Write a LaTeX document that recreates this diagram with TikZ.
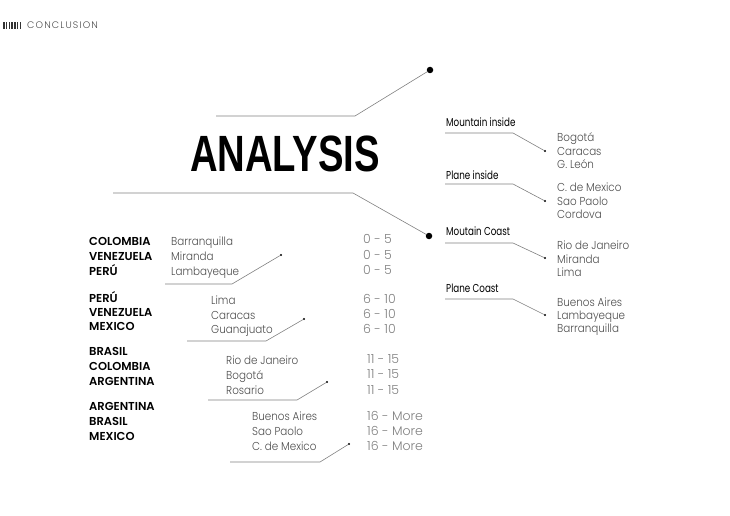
\documentclass[tikz,border=0pt]{standalone}
\usepackage{fontspec}
\setmainfont{Poppins}
\newfontfamily\thinfont{Poppins Light}[FakeStretch=0.9]
\newfontfamily\spanfont{Poppins Light}
\newfontfamily\labelfont{Poppins}[FakeStretch=0.76]
\newfontfamily\heavyfont{Poppins SemiBold}
\newfontfamily\titlefont{Liberation Sans Bold}[FakeStretch=0.75]
\newfontfamily\headfont{Poppins Light}[LetterSpace=12]
\usetikzlibrary{positioning}
\tikzset{
        title/.style = {font=\titlefont\fontsize{51}{51}\selectfont, inner sep=0pt, anchor=base},
        country/.style = {font=\heavyfont\fontsize{11.5}{14}\selectfont, inner sep=0pt, anchor=base west},
        city/.style = {font=\thinfont\fontsize{11.5}{13}\selectfont, text=black!70, inner sep=0pt, anchor=base west},
        agerange/.style = {font=\spanfont\fontsize{12.5}{13}\selectfont, text=black!50, inner sep=0pt, anchor=base west},
        kind/.style = {font=\labelfont\fontsize{11.5}{13}\selectfont, inner sep=0pt, anchor=base west},
        leader/.style = {draw=black!50, line width=0.6pt},
        bigdot/.style = {circle, fill=black, inner sep=0pt, minimum size=6.5pt},
        dot/.style = {circle, fill=black, inner sep=0pt, minimum size=2.4pt},
}
\begin{document}
\begin{tikzpicture}[x=1pt,y=-1pt]
\useasboundingbox (0,0) rectangle (730,516);
% header
\foreach \i in {0,...,6} \fill[black!80] (3+2.75*\i,22) rectangle ++(1.6,7);
\node [anchor=base west, inner sep=0pt, font=\headfont\fontsize{9.5}{10}\selectfont, text=black!70] (head) at (27,29) {CONCLUSION};

% title and its two leaders
\node [title] (analysis) at (285,171.5) {ANALYSIS};
\node [bigdot] (topdot) at (430,70) {};
\node [bigdot] (lowdot) at (429,236) {};
\coordinate (topa) at (216,116);
\coordinate (topb) at (355,116);
\coordinate (lowa) at (113,193);
\coordinate (lowb) at (353,193);
\draw [leader] (topa) -- (topb) -- (topdot);
\draw [leader] (lowa) -- (lowb) -- (lowdot);

% right column
\node [kind] (mi) at (446,127) {Mountain inside};
\node [city] (mi1) at (557,141) {Bogotá};
\node [city] (mi2) at (557,155) {Caracas};
\node [city] (mi3) at (557,168) {G. León};
\node [dot] (midot) at (545,151) {};
\draw [leader] (445,133) coordinate (mia) -- (513,133) coordinate (mib) -- (midot);

\node [kind] (pi) at (446,179) {Plane inside};
\node [city] (pi1) at (557,191) {C. de Mexico};
\node [city] (pi2) at (557,205) {Sao Paolo};
\node [city] (pi3) at (557,218) {Cordova};
\node [dot] (pidot) at (545,201) {};
\draw [leader] (445,184) coordinate (pia) -- (513,184) coordinate (pib) -- (pidot);

\node [kind] (mc) at (446,235) {Moutain Coast};
\node [city] (mc1) at (557,249) {Rio de Janeiro};
\node [city] (mc2) at (557,263) {Miranda};
\node [city] (mc3) at (557,276) {Lima};
\node [dot] (mcdot) at (545,258) {};
\draw [leader] (445,243) coordinate (mca) -- (513,243) coordinate (mcb) -- (mcdot);

\node [kind] (pc) at (446,292) {Plane Coast};
\node [city] (pc1) at (557,306) {Buenos Aires};
\node [city] (pc2) at (557,319) {Lambayeque};
\node [city] (pc3) at (557,332) {Barranquilla};
\node [dot] (pcdot) at (545,315) {};
\draw [leader] (445,299) coordinate (pca) -- (513,299) coordinate (pcb) -- (pcdot);

% left column, group 0 - 5
\node [country] (ga1) at (89,245.5) {COLOMBIA};
\node [country] (ga2) at (89,260.5) {VENEZUELA};
\node [country] (ga3) at (89,275.5) {PERÚ};
\node [city] (ca1) at (171,245.5) {Barranquilla};
\node [city] (ca2) at (171,260.5) {Miranda};
\node [city] (ca3) at (171,275.5) {Lambayeque};
\node [agerange] (ra1) at (363,243.5) {0 - 5};
\node [agerange] (ra2) at (363,259) {0 - 5};
\node [agerange] (ra3) at (363,274.5) {0 - 5};
\node [dot] (adot) at (281,255) {};
\draw [leader] (165,284) coordinate (aa) -- (232,284) coordinate (ab) -- (adot);

% group 6 - 10
\node [country] (gb1) at (89,302) {PERÚ};
\node [country] (gb2) at (89,316) {VENEZUELA};
\node [country] (gb3) at (89,330) {MEXICO};
\node [city] (cb1) at (211,304.5) {Lima};
\node [city] (cb2) at (211,319) {Caracas};
\node [city] (cb3) at (211,333.5) {Guanajuato};
\node [agerange] (rb1) at (363,303.5) {6 - 10};
\node [agerange] (rb2) at (363,318) {6 - 10};
\node [agerange] (rb3) at (363,333) {6 - 10};
\node [dot] (bdot) at (304,319) {};
\draw [leader] (187,341) coordinate (ba) -- (266,341) coordinate (bb) -- (bdot);

% group 11 - 15
\node [country] (gc1) at (89,355) {BRASIL};
\node [country] (gc2) at (89,370) {COLOMBIA};
\node [country] (gc3) at (89,385) {ARGENTINA};
\node [city] (cc1) at (226,364) {Rio de Janeiro};
\node [city] (cc2) at (226,379) {Bogotá};
\node [city] (cc3) at (226,394) {Rosario};
\node [agerange] (rc1) at (367,363.5) {11 - 15};
\node [agerange] (rc2) at (367,378.5) {11 - 15};
\node [agerange] (rc3) at (367,394) {11 - 15};
\node [dot] (cdot) at (327,382) {};
\draw [leader] (208,400) coordinate (ca) -- (297,400) coordinate (cb) -- (cdot);

% group 16 - More
\node [country] (gd1) at (89,410) {ARGENTINA};
\node [country] (gd2) at (89,425) {BRASIL};
\node [country] (gd3) at (89,440) {MEXICO};
\node [city] (cd1) at (252,420) {Buenos Aires};
\node [city] (cd2) at (252,435) {Sao Paolo};
\node [city] (cd3) at (252,450) {C. de Mexico};
\node [agerange] (rd1) at (367,420) {16 - More};
\node [agerange] (rd2) at (367,435) {16 - More};
\node [agerange] (rd3) at (367,450) {16 - More};
\node [dot] (ddot) at (349,444) {};
\draw [leader] (230,462) coordinate (da) -- (320,462) coordinate (db) -- (ddot);
\end{tikzpicture}
\end{document}
